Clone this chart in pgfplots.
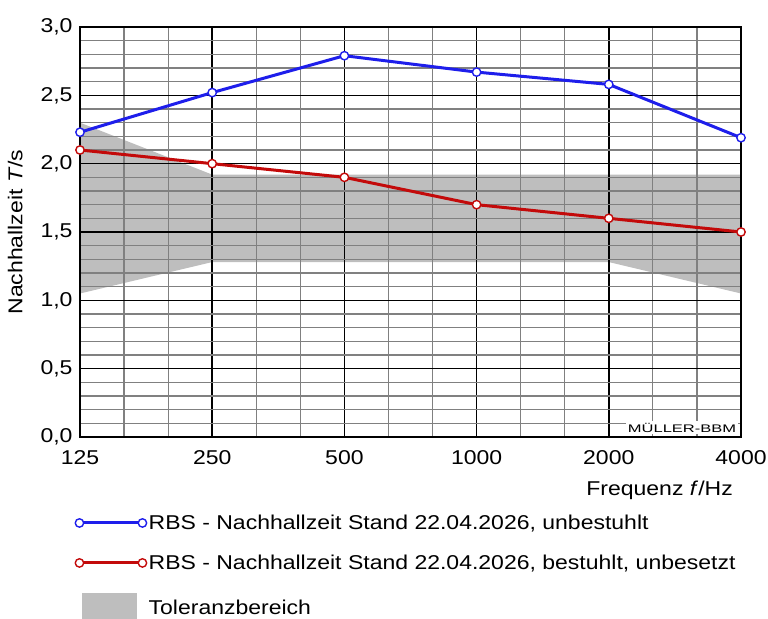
\documentclass[border=0pt]{standalone}
\usepackage{fontspec}
\setmainfont[FakeStretch=1.15]{Liberation Sans}
\newfontfamily\wmfont[FakeStretch=1.5]{Liberation Sans}
\usepackage{pgfplots}
\pgfplotsset{compat=1.18}
\definecolor{rbsblue}{RGB}{30,30,235}
\definecolor{rbsred}{RGB}{195,10,10}
\definecolor{tolgray}{RGB}{190,190,190}
\pgfplotsset{
  twoend legend/.style={legend image code/.code={%
    \draw[##1,mark=none] (0bp,0bp) -- (63bp,0bp);
    \draw[##1,only marks] plot coordinates {(0bp,0bp) (63bp,0bp)};}},
  box legend/.style={legend image code/.code={%
    \fill[tolgray] (3bp,-15bp) rectangle (58bp,15bp);}},
}
\begin{document}
\begin{tikzpicture}[font=\fontsize{20bp}{24bp}\selectfont]
\begin{axis}[
  set layers,
  name=ax,
  at={(0,0)}, anchor=south west,
  scale only axis, width=661bp, height=410bp,
  xmode=log,
  xmin=125, xmax=4000, ymin=0, ymax=3,
  xtick={125,250,500,1000,2000,4000},
  xticklabels={125,250,500,1000,2000,4000},
  minor xtick={157.49,198.43,314.98,396.85,629.96,793.70,1259.92,1587.40,2519.84,3174.80},
  ytick={0,0.5,1,1.5,2,2.5,3},
  minor ytick={0.1,0.2,0.3,0.4,0.6,0.7,0.8,0.9,1.1,1.2,1.3,1.4,1.6,1.7,1.8,1.9,2.1,2.2,2.3,2.4,2.6,2.7,2.8,2.9},
  yticklabel={\pgfmathprintnumber[fixed,fixed zerofill,precision=1,use comma,assume math mode=true]{\tick}},
  grid=both,
  major grid style={black, line width=1.6bp},
  minor grid style={black!50, line width=1.2bp},
  axis line style={black, line width=2bp},
  major tick length=0pt, minor tick length=0pt,
  xticklabel style={yshift=-10bp},
  yticklabel style={xshift=-4bp},
  xlabel={Frequenz \textit{f}/Hz},
  xlabel style={at={(rel axis cs:1,0)}, anchor=north east, yshift=-44bp, xshift=-8bp, inner sep=0pt},
  ylabel={Nachhallzeit \textit{T}/s},
  ylabel shift=11bp,
  legend cell align=left,
  legend style={at={(rel axis cs:-0.012,-0.18)}, anchor=north west, draw=none, fill=none,
    row sep=20bp, font=\fontsize{20bp}{24bp}\selectfont},
]
\addplot[rbsblue, line width=3bp, mark=*, mark size=4.2bp,
  mark options={fill=white, line width=1.4bp}, twoend legend]
  coordinates {(125,2.23) (250,2.52) (500,2.79) (1000,2.67) (2000,2.58) (4000,2.19)};
\addlegendentry{RBS - Nachhallzeit Stand 22.04.2026, unbestuhlt}
\addplot[rbsred, line width=3bp, mark=*, mark size=4.2bp,
  mark options={fill=white, line width=1.4bp}, twoend legend]
  coordinates {(125,2.10) (250,2.00) (500,1.90) (1000,1.70) (2000,1.60) (4000,1.50)};
\addlegendentry{RBS - Nachhallzeit Stand 22.04.2026, bestuhlt, unbesetzt}
\addplot[fill=tolgray, draw=none, on layer=axis background, box legend]
  coordinates {(125,2.30) (250,1.92) (2000,1.92) (4000,1.92) (4000,1.05) (2000,1.28) (250,1.28) (125,1.05)} -- cycle;
\addlegendentry{Toleranzbereich}
\node[fill=white, inner sep=2bp, anchor=south east, font=\wmfont\fontsize{11bp}{11bp}\selectfont]
  at (rel axis cs:0.996,0.006) {MÜLLER-BBM};
\end{axis}
\pgfresetboundingbox
\path[use as bounding box] (-80bp,-182bp) rectangle (688bp,437bp);
\end{tikzpicture}
\end{document}
